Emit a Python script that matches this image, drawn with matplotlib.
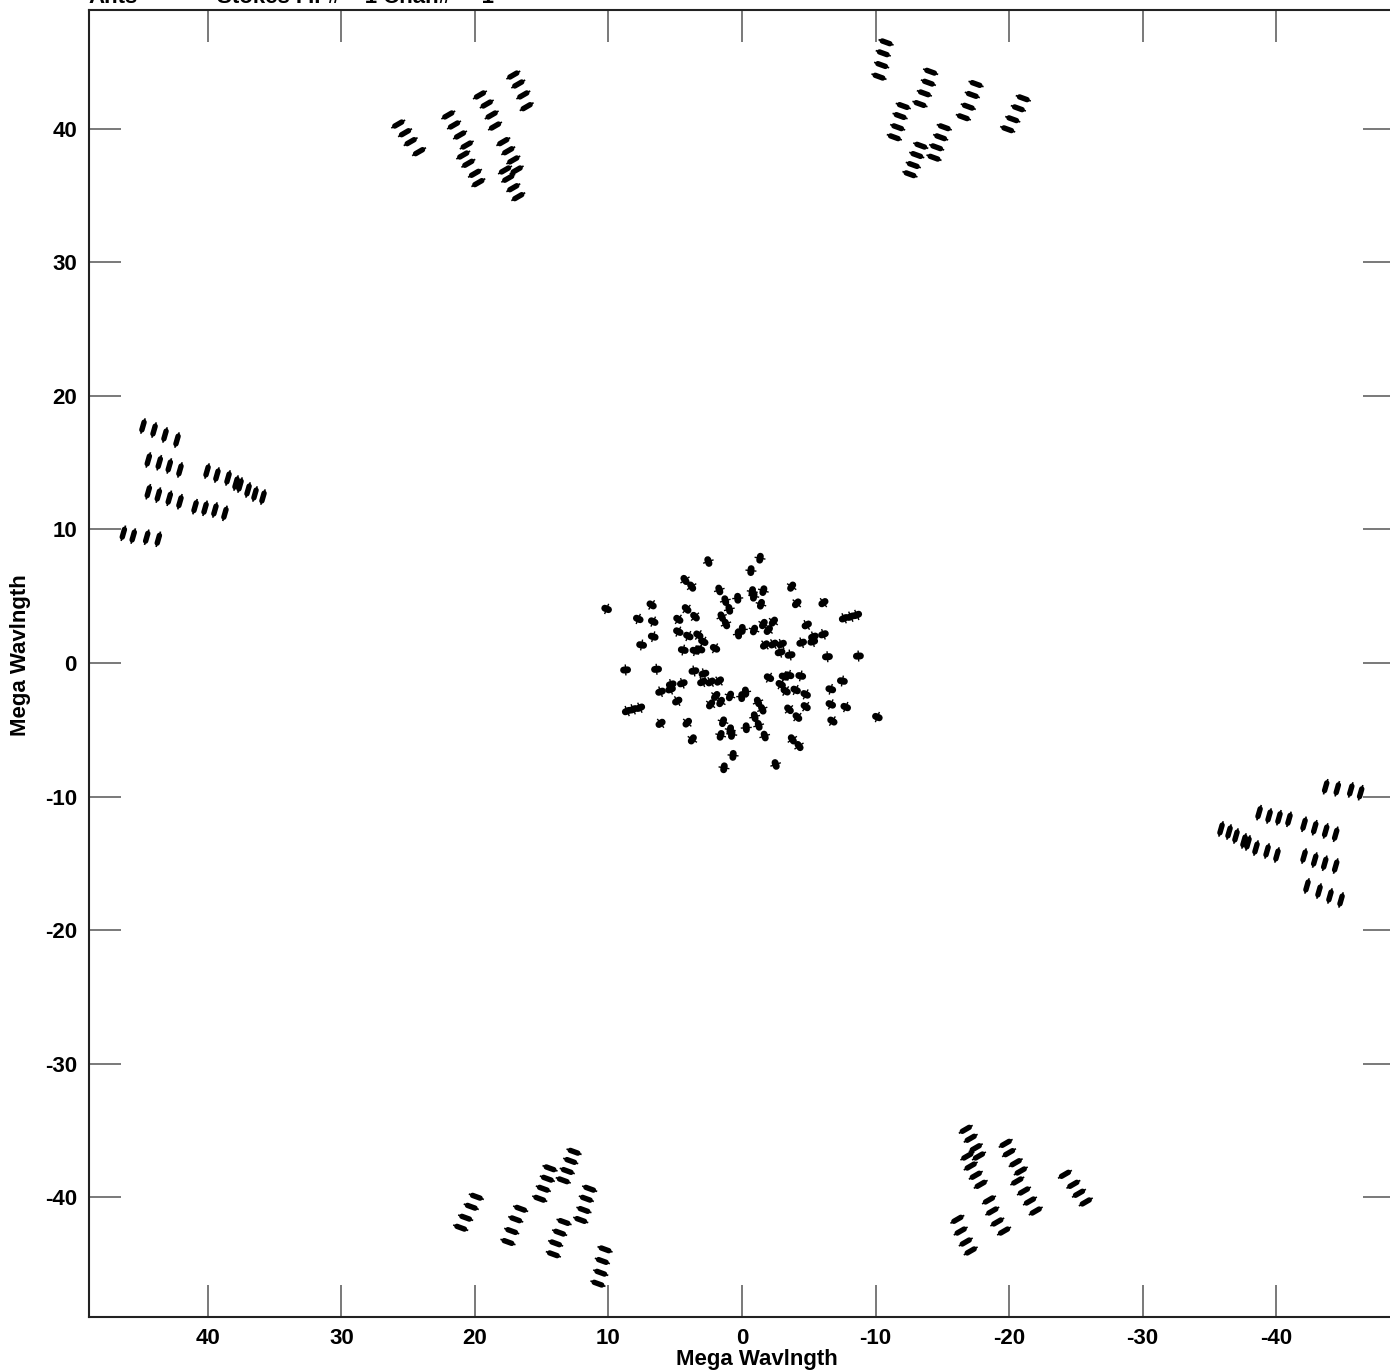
import matplotlib
matplotlib.use('Agg')
import matplotlib.pyplot as plt
import numpy as np
from matplotlib.collections import LineCollection

plt.rcParams['font.family'] = ['Liberation Sans', 'DejaVu Sans']
plt.rcParams['font.weight'] = 'bold'
plt.rcParams['axes.unicode_minus'] = False

# ---------------- data (Mega Wavelength, u, v) ----------------
# top-left cluster (conjugates form the bottom-right cluster)
tl_u = [25.75, 25.24, 24.82, 24.19,
        22.00, 21.57, 21.12, 20.62,
        20.88, 20.50, 20.00, 19.75,
        19.63, 19.12, 18.75, 18.50,
        17.88, 17.51, 17.13, 16.88,
        17.75, 17.51, 17.13, 16.76,
        17.13, 16.76, 16.38, 16.13]
tl_v = [40.37, 39.72, 39.05, 38.30,
        41.05, 40.30, 39.55, 38.80,
        38.05, 37.43, 36.68, 35.98,
        42.55, 41.87, 41.05, 40.22,
        39.05, 38.37, 37.68, 36.93,
        36.93, 36.31, 35.60, 34.93,
        44.04, 43.37, 42.55, 41.67]

# top-right cluster (conjugates form the bottom-left cluster)
tr_u = [-10.79, -10.58, -10.46, -10.26,
        -14.13, -13.96, -13.66, -13.33,
        -12.08, -11.84, -11.66, -11.41,
        -17.53, -17.25, -16.95, -16.58,
        -21.07, -20.70, -20.28, -19.90,
        -15.15, -14.88, -14.58, -14.38,
        -13.39, -13.09, -12.83, -12.58]
tr_v = [46.49, 45.67, 44.79, 43.92,
        44.29, 43.47, 42.67, 41.87,
        41.72, 40.97, 40.13, 39.38,
        43.37, 42.55, 41.67, 40.88,
        42.30, 41.55, 40.73, 39.98,
        40.13, 39.38, 38.63, 37.85,
        38.75, 38.05, 37.30, 36.61]

# left cluster (conjugates form the right cluster)
lf_u = [44.87, 44.04, 43.22, 42.32,
        44.47, 43.65, 42.90, 42.10,
        40.07, 39.33, 38.50, 37.90,
        37.60, 37.00, 36.48, 35.88,
        44.47, 43.72, 42.90, 42.10,
        40.97, 40.22, 39.48, 38.73,
        46.34, 45.60, 44.59, 43.72]
lf_v = [17.75, 17.45, 17.08, 16.70,
        15.21, 15.00, 14.76, 14.46,
        14.38, 14.08, 13.86, 13.48,
        13.33, 12.96, 12.66, 12.43,
        12.83, 12.58, 12.34, 12.08,
        11.71, 11.59, 11.46, 11.21,
        9.72, 9.51, 9.42, 9.27]

# central short baselines (upper half; conjugates give the lower half)
ct_u = [2.52, -1.35, -0.67, 4.27, 3.77, 1.70, -0.77, -0.88, -1.60, -3.72,
        1.25, 0.32, -1.42, 0.95, -4.10, -6.10, 6.77, 10.14, 4.15, 3.52,
        4.77, 7.77, 6.65, 1.52, 1.20, -7.65, -8.15, -8.60, -4.85, 0.27,
        -0.02, -0.90, -1.60, -2.35, -1.97, -5.35, -6.10, -5.30, -4.47, 6.65,
        4.77, 4.02, 3.27, 2.90, 7.52, 4.40, 3.52, 3.15, 2.02, -1.72,
        -2.35, -2.97, -2.85, -3.60, -6.40, -8.72]
ct_v = [7.60, 7.85, 6.92, 6.22, 5.72, 5.47, 5.35, 5.00, 5.42, 5.72,
        4.67, 4.85, 4.40, 4.02, 4.47, 4.52, 4.35, 4.05, 4.05, 3.47,
        3.27, 3.30, 3.10, 3.47, 2.92, 3.35, 3.47, 3.60, 2.85, 2.17,
        2.52, 2.47, 2.92, 3.10, 2.47, 1.97, 2.15, 1.60, 1.52, 1.97,
        2.35, 2.02, 2.10, 1.60, 1.35, 0.97, 0.92, 1.02, 1.10, 1.35,
        1.42, 1.42, 0.80, 0.60, 0.47, 0.52]

x_ticks = [40, 30, 20, 10, 0, -10, -20, -30, -40]
y_ticks = [-40, -30, -20, -10, 0, 10, 20, 30, 40]
x_label = "Mega Wavlngth"
y_label = "Mega Wavlngth"
title_left = "Ants"
title_mid = "* - *"
title_right = "Stokes I IF#    1 Chan#     1"

# ---------------- figure ----------------
W, H, DPI = 1390, 1372, 100
fig = plt.figure(figsize=(W / DPI, H / DPI), dpi=DPI)
fig.patch.set_facecolor('white')
ax_l, ax_t, ax_s = 88.5, 9.5, 1307.0
ax = fig.add_axes([ax_l / W, (H - ax_t - ax_s) / H, ax_s / W, ax_s / H])
lim = 48.95
ax.set_xlim(lim, -lim)
ax.set_ylim(-lim, lim)
ppu = ax_s / (2 * lim)  # pixels per unit


def conj(u, v):
    return list(u) + [-a for a in u], list(v) + [-b for b in v]


def segs(u, v, ang, length_px):
    out = []
    for ui, vi, a in zip(u, v, ang):
        r = np.radians(a)
        du = -np.cos(r) * length_px / 2 / ppu   # x axis is reversed
        dv = np.sin(r) * length_px / 2 / ppu
        out.append([(ui - du, vi - dv), (ui + du, vi + dv)])
    return out


def outer_marks(u, v, ang_deg):
    uu, vv = conj(u, v)
    ang = [ang_deg] * len(uu)
    ax.add_collection(LineCollection(segs(uu, vv, ang, 16), colors='black',
                                     linewidths=1.2, capstyle='butt', zorder=3))
    ax.add_collection(LineCollection(segs(uu, vv, ang, 8), colors='black',
                                     linewidths=3.9, capstyle='round', zorder=3))


outer_marks(tl_u, tl_v, 30)
outer_marks(tr_u, tr_v, -20)
outer_marks(lf_u, lf_v, 74)

cu, cv = conj(ct_u, ct_v)
rad = [np.degrees(np.arctan2(b, -a)) for a, b in zip(cu, cv)]
tan = [r + 90 for r in rad]
ax.add_collection(LineCollection(segs(cu, cv, rad, 4), colors='black',
                                 linewidths=5.0, capstyle='round', zorder=3))
ax.add_collection(LineCollection(segs(cu, cv, tan, 11), colors='black',
                                 linewidths=1.0, capstyle='butt', zorder=3))

# ---------------- axes styling ----------------
ax.set_xticks(x_ticks)
ax.set_yticks(y_ticks)
ax.set_xticklabels([str(t) for t in x_ticks])
ax.set_yticklabels([str(t) for t in y_ticks])
ax.tick_params(direction='in', length=32 * 72 / DPI, width=1.1, color='#555555',
               top=True, right=True, labelsize=16, pad=8.3)
for lab in ax.get_xticklabels() + ax.get_yticklabels():
    lab.set_fontweight('bold')
for sp in ax.spines.values():
    sp.set_linewidth(1.5)
    sp.set_color('#222222')

fig.text(757 / W, 1 - 1359 / H, x_label, ha='center', va='center',
         fontsize=16, fontweight='bold')
fig.text(21 / W, 1 - 655 / H, y_label, ha='center', va='center',
         rotation=90, fontsize=16, fontweight='bold')

# title (clipped at the top edge, as in the reference)
fig.text(88 / W, 1 - 3 / H, title_left, ha='left', va='baseline',
         fontsize=16, fontweight='bold')
fig.text(165 / W, 1 - 3 / H, title_mid, ha='left', va='baseline',
         fontsize=16, fontweight='bold')
fig.text(217 / W, 1 - 3 / H, title_right, ha='left',
         va='baseline', fontsize=16, fontweight='bold')

fig.savefig('out.png', dpi=DPI, facecolor='white')
